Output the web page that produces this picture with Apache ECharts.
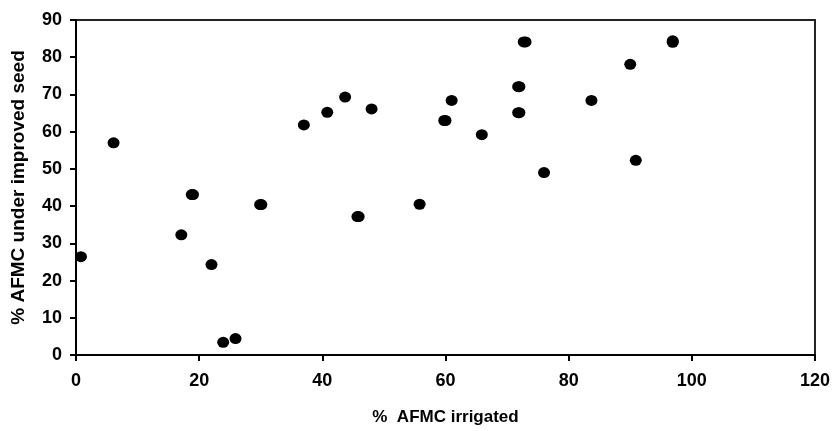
<!DOCTYPE html>
<html>
<head>
<meta charset="utf-8">
<script src="https://cdn.jsdelivr.net/npm/echarts@6/dist/echarts.min.js"></script>
<style>html,body{margin:0;padding:0;background:#fff}#c{width:833px;height:431px}</style>
</head>
<body>
<div id="c"></div>
<script>
var irrigated = [0.8, 6.1, 17.1, 18.8, 19.0, 22.0, 23.9, 25.9, 29.9, 30.1, 37.0, 40.8, 43.7, 45.7, 45.9, 48.0, 55.8, 59.8, 60.0, 61.0, 65.9, 71.8, 72.0, 71.8, 72.0, 72.7, 73.0, 76.0, 83.7, 90.0, 90.9, 96.9, 96.9];
var improvedSeed = [26.4, 57.0, 32.3, 43.1, 43.1, 24.3, 3.4, 4.4, 40.4, 40.4, 61.8, 65.2, 69.3, 37.2, 37.2, 66.1, 40.5, 63.0, 63.0, 68.4, 59.2, 65.1, 65.1, 72.1, 72.1, 84.1, 84.1, 49.0, 68.4, 78.1, 52.3, 84.0, 84.4];
var xTicks = [0, 20, 40, 60, 80, 100, 120];
var yTicks = [0, 10, 20, 30, 40, 50, 60, 70, 80, 90];

var points = irrigated.map(function (x, i) { return [x, improvedSeed[i]]; });
var font = '"Liberation Sans", Arial, sans-serif';
var chart = echarts.init(document.getElementById('c'), null, {renderer: 'canvas'});
chart.setOption({
  animation: false,
  backgroundColor: '#fff',
  grid: {left: 76, right: 18, top: 20, bottom: 75, show: true, borderColor: '#222', borderWidth: 2, backgroundColor: 'transparent'},
  xAxis: {
    type: 'value', min: xTicks[0], max: xTicks[xTicks.length - 1], interval: 20,
    name: '%  AFMC irrigated', nameLocation: 'middle', nameGap: 54,
    nameTextStyle: {fontFamily: font, fontWeight: 'bold', fontSize: 17, color: '#000'},
    axisLine: {show: true, onZero: false, lineStyle: {color: '#000', width: 2}},
    axisTick: {show: true, inside: false, length: 6, lineStyle: {color: '#000', width: 2}},
    axisLabel: {fontFamily: font, fontWeight: 'bold', fontSize: 18, color: '#000', margin: 17},
    splitLine: {show: false}
  },
  yAxis: {
    type: 'value', min: yTicks[0], max: yTicks[yTicks.length - 1], interval: 10,
    name: '% AFMC under improved seed', nameLocation: 'middle', nameGap: 48,
    nameTextStyle: {fontFamily: font, fontWeight: 'bold', fontSize: 19, color: '#000'},
    axisLine: {show: true, onZero: false, lineStyle: {color: '#000', width: 2}},
    axisTick: {show: true, inside: false, length: 6, lineStyle: {color: '#000', width: 2}},
    axisLabel: {fontFamily: font, fontWeight: 'bold', fontSize: 18, color: '#000', margin: 14},
    splitLine: {show: false}
  },
  series: [{
    type: 'scatter',
    data: points,
    symbol: 'circle',
    symbolSize: [12, 11],
    itemStyle: {color: '#000', opacity: 1}
  }]
});
</script>
</body>
</html>
